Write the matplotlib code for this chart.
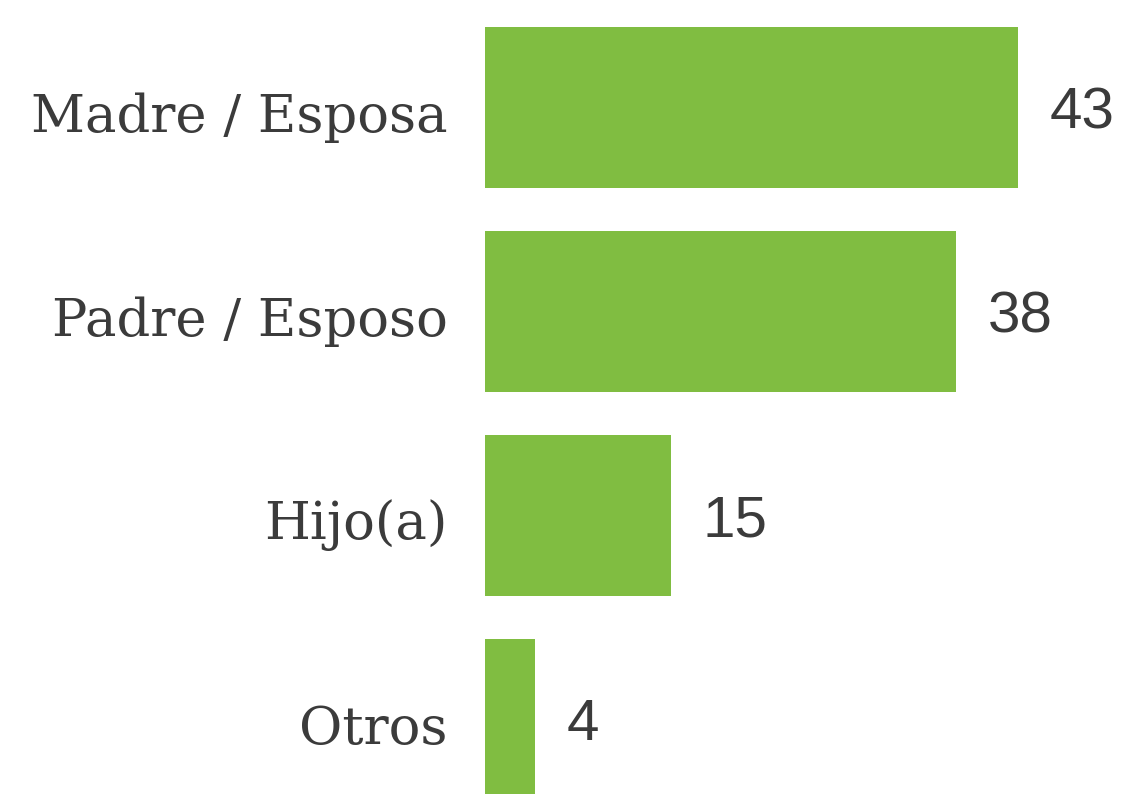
import matplotlib.pyplot as plt
import matplotlib.transforms as mtransforms
import numpy as np

categories = ['Madre / Esposa', 'Padre / Esposo', 'Hijo(a)', 'Otros']
values = [43, 38, 15, 4]

bar_color = '#80bd41'
text_color = '#3b3b3b'

fig = plt.figure(figsize=(11.33, 7.94), dpi=100)
ax = fig.add_axes([485 / 1133, 0, 1 - 485 / 1133, 1])

y_pos = np.arange(len(categories))
bars = ax.barh(y_pos, values, height=0.79, color=bar_color)

for bar, v in zip(bars, values):
    ax.annotate(f'{v}', (bar.get_width(), bar.get_y() + bar.get_height() / 2),
                xytext=(23, -4), textcoords='offset points',
                ha='left', va='center', fontsize=42, color=text_color,
                family='Liberation Sans')

ax.set_yticks(y_pos)
ax.set_yticklabels(categories, fontsize=38, color=text_color, family='DejaVu Serif')
ax.tick_params(axis='y', length=0, pad=27)
# nudge category labels down a little
shift = mtransforms.ScaledTranslation(0, -4 / 100, fig.dpi_scale_trans)
for lbl in ax.get_yticklabels():
    lbl.set_transform(lbl.get_transform() + shift)
ax.set_xticks([])
ax.set_xlim(0, 52.3)
ax.set_ylim(3.365, -0.527)
for s in ax.spines.values():
    s.set_visible(False)

plt.savefig('out.png', dpi=100)
